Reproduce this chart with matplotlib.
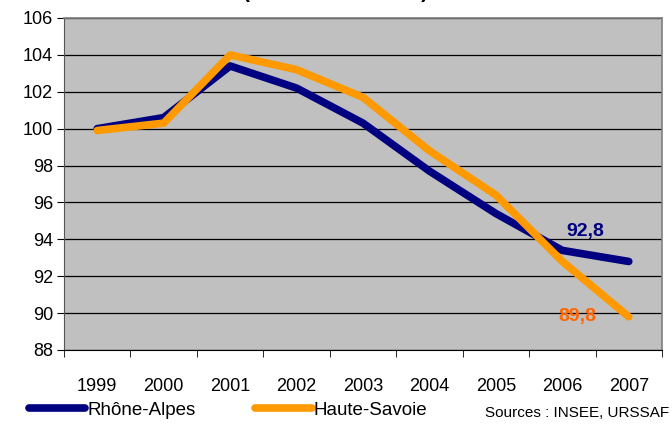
import matplotlib.pyplot as plt

plt.rcParams['font.family'] = ['Liberation Sans', 'DejaVu Sans']

years = ['1999', '2000', '2001', '2002', '2003', '2004', '2005', '2006', '2007']
rhone_alpes = [100.0, 100.6, 103.4, 102.2, 100.3, 97.7, 95.4, 93.4, 92.8]
haute_savoie = [99.9, 100.3, 104.0, 103.2, 101.7, 98.8, 96.4, 92.8, 89.8]
y_ticks = list(range(88, 107, 2))

fig = plt.figure(figsize=(6.72, 4.25), dpi=100)
ax = fig.add_axes([64 / 672, 1 - 350 / 425, 598 / 672, 332 / 425])
ax.set_facecolor('#C0C0C0')

x = list(range(len(years)))
l1, = ax.plot(x, rhone_alpes, color='#000080', lw=5.5, solid_capstyle='round',
              solid_joinstyle='round', label='Rhône-Alpes', zorder=3)
l2, = ax.plot(x, haute_savoie, color='#FF9900', lw=5.5, solid_capstyle='round',
              solid_joinstyle='round', label='Haute-Savoie', zorder=4)

ax.text(7.34, rhone_alpes[-1] + 1.65, '92,8', color='#000080', fontsize=14,
        fontweight='bold', ha='center', va='center', zorder=5)
ax.text(7.22, haute_savoie[-1], '89,8', color='#FF6600', fontsize=14,
        fontweight='bold', ha='center', va='center', zorder=5)

ax.set_xlim(-0.5, 8.5)
ax.set_ylim(88, 106)
ax.set_yticks(y_ticks)
ax.set_yticklabels([str(v) for v in y_ticks], fontsize=13)
ax.set_xticks(x)
ax.set_xticklabels(years, fontsize=13)
ax.set_xticks([i - 0.5 for i in range(len(years) + 1)], minor=True)
ax.tick_params(axis='x', which='major', length=0, pad=20)
ax.tick_params(axis='x', which='minor', length=5, direction='out', color='black')
ax.tick_params(axis='y', length=5, direction='out', pad=3)
ax.grid(axis='y', color='black', lw=0.9)
ax.set_axisbelow(True)

for side in ['top', 'right']:
    ax.spines[side].set_color('#808080')
    ax.spines[side].set_linewidth(1.2)
ax.spines['left'].set_color('#555555')
ax.spines['bottom'].set_color('black')

# title mostly outside the canvas, as in the source image
fig.text(0.5, 1 + 2 / 425, '(base 100 en 1999)', ha='center', va='baseline',
         fontsize=15, fontweight='bold')

fig.legend(handles=[l1, l2], loc='lower left', bbox_to_anchor=(0.018, -0.025),
           ncol=2, frameon=False, fontsize=13.5, handlelength=3.0,
           handletextpad=0.1, columnspacing=3.2)
fig.text(0.995, 0.012, 'Sources : INSEE, URSSAF', ha='right', va='bottom', fontsize=11)

fig.savefig('out.png', dpi=100)
